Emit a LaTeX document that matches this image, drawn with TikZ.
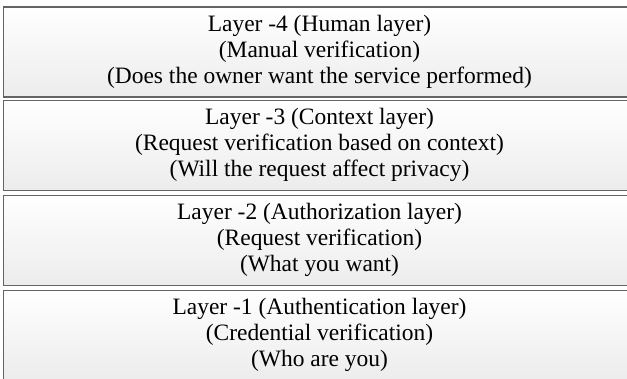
\documentclass[tikz,border=0pt]{standalone}
\usepackage{fontspec}
\setmainfont{Liberation Serif}
\usetikzlibrary{positioning}
\definecolor{cEdge}{RGB}{100,100,100}
\definecolor{cLow}{RGB}{236,236,236}
\tikzset{
    layerbox/.style={rectangle, minimum width=474pt, minimum height=67.5pt, inner sep=0pt, align=center, draw=cEdge, line width=0.8pt, top color=white, bottom color=cLow, font=\fontsize{17.6}{19.6}\selectfont},
}

\begin{document}
\begin{tikzpicture}[x=0.75pt, y=-0.75pt]
        \useasboundingbox (0,0) rectangle (627,378);
        % stacked layers, top one first
        \node[layerbox] (human) at (319.5,52) {Layer -4 (Human layer)\\ (Manual verification)\\ (Does the owner want the service performed)};
        \node[layerbox, below=1.5pt of human] (context) {Layer -3 (Context layer)\\ (Request verification based on context)\\ (Will the request affect privacy)};
        \node[layerbox, below=3pt of context] (authz) {Layer -2 (Authorization layer)\\ (Request verification)\\ (What you want)};
        \node[layerbox, below=3pt of authz] (authn) {Layer -1 (Authentication layer)\\ (Credential verification)\\ (Who are you)};
    \end{tikzpicture}
\end{document}
